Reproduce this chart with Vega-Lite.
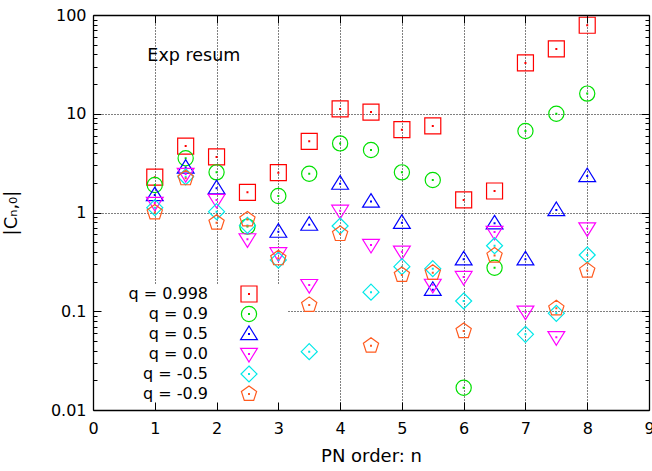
{
  "$schema": "https://vega.github.io/schema/vega-lite/v6.json",
  "width": 556,
  "height": 395,
  "autosize": {"type": "none"},
  "padding": {"left": 93, "top": 15, "right": 3, "bottom": 61},
  "background": "white",
  "config": {"view": {"stroke": null}, "font": "DejaVu Sans"},
  "data": {
    "values": [
      {"n": 1, "v": 2.28, "q": "q = 0.998"},
      {"n": 1.5, "v": 4.71, "q": "q = 0.998"},
      {"n": 2, "v": 3.65, "q": "q = 0.998"},
      {"n": 2.5, "v": 1.6, "q": "q = 0.998"},
      {"n": 3, "v": 2.53, "q": "q = 0.998"},
      {"n": 3.5, "v": 5.26, "q": "q = 0.998"},
      {"n": 4, "v": 11.2, "q": "q = 0.998"},
      {"n": 4.5, "v": 10.4, "q": "q = 0.998"},
      {"n": 5, "v": 6.9, "q": "q = 0.998"},
      {"n": 5.5, "v": 7.52, "q": "q = 0.998"},
      {"n": 6, "v": 1.34, "q": "q = 0.998"},
      {"n": 6.5, "v": 1.65, "q": "q = 0.998"},
      {"n": 7, "v": 32.7, "q": "q = 0.998"},
      {"n": 7.5, "v": 45.3, "q": "q = 0.998"},
      {"n": 8, "v": 78.7, "q": "q = 0.998"},

      {"n": 1, "v": 1.9, "q": "q = 0.9"},
      {"n": 1.5, "v": 3.54, "q": "q = 0.9"},
      {"n": 2, "v": 2.55, "q": "q = 0.9"},
      {"n": 2.5, "v": 0.72, "q": "q = 0.9"},
      {"n": 3, "v": 1.47, "q": "q = 0.9"},
      {"n": 3.5, "v": 2.47, "q": "q = 0.9"},
      {"n": 4, "v": 5.01, "q": "q = 0.9"},
      {"n": 4.5, "v": 4.3, "q": "q = 0.9"},
      {"n": 5, "v": 2.55, "q": "q = 0.9"},
      {"n": 5.5, "v": 2.13, "q": "q = 0.9"},
      {"n": 6, "v": 0.0168, "q": "q = 0.9"},
      {"n": 6.5, "v": 0.276, "q": "q = 0.9"},
      {"n": 7, "v": 6.69, "q": "q = 0.9"},
      {"n": 7.5, "v": 10.0, "q": "q = 0.9"},
      {"n": 8, "v": 16.0, "q": "q = 0.9"},

      {"n": 1, "v": 1.5, "q": "q = 0.5"},
      {"n": 1.5, "v": 2.85, "q": "q = 0.5"},
      {"n": 2, "v": 1.76, "q": "q = 0.5"},
      {"n": 3, "v": 0.64, "q": "q = 0.5"},
      {"n": 3.5, "v": 0.753, "q": "q = 0.5"},
      {"n": 4, "v": 1.96, "q": "q = 0.5"},
      {"n": 4.5, "v": 1.29, "q": "q = 0.5"},
      {"n": 5, "v": 0.788, "q": "q = 0.5"},
      {"n": 5.5, "v": 0.165, "q": "q = 0.5"},
      {"n": 6, "v": 0.336, "q": "q = 0.5"},
      {"n": 6.5, "v": 0.777, "q": "q = 0.5"},
      {"n": 7, "v": 0.336, "q": "q = 0.5"},
      {"n": 7.5, "v": 1.06, "q": "q = 0.5"},
      {"n": 8, "v": 2.34, "q": "q = 0.5"},

      {"n": 1, "v": 1.25, "q": "q = 0.0"},
      {"n": 1.5, "v": 2.45, "q": "q = 0.0"},
      {"n": 2, "v": 1.34, "q": "q = 0.0"},
      {"n": 2.5, "v": 0.535, "q": "q = 0.0"},
      {"n": 3, "v": 0.386, "q": "q = 0.0"},
      {"n": 3.5, "v": 0.184, "q": "q = 0.0"},
      {"n": 4, "v": 1.04, "q": "q = 0.0"},
      {"n": 4.5, "v": 0.469, "q": "q = 0.0"},
      {"n": 5, "v": 0.401, "q": "q = 0.0"},
      {"n": 5.5, "v": 0.185, "q": "q = 0.0"},
      {"n": 6, "v": 0.222, "q": "q = 0.0"},
      {"n": 6.5, "v": 0.635, "q": "q = 0.0"},
      {"n": 7, "v": 0.099, "q": "q = 0.0"},
      {"n": 7.5, "v": 0.0545, "q": "q = 0.0"},
      {"n": 8, "v": 0.69, "q": "q = 0.0"},

      {"n": 1, "v": 1.12, "q": "q = -0.5"},
      {"n": 1.5, "v": 2.3, "q": "q = -0.5"},
      {"n": 2, "v": 1.02, "q": "q = -0.5"},
      {"n": 2.5, "v": 0.74, "q": "q = -0.5"},
      {"n": 3, "v": 0.33, "q": "q = -0.5"},
      {"n": 3.5, "v": 0.039, "q": "q = -0.5"},
      {"n": 4, "v": 0.73, "q": "q = -0.5"},
      {"n": 4.5, "v": 0.156, "q": "q = -0.5"},
      {"n": 5, "v": 0.283, "q": "q = -0.5"},
      {"n": 5.5, "v": 0.27, "q": "q = -0.5"},
      {"n": 6, "v": 0.127, "q": "q = -0.5"},
      {"n": 6.5, "v": 0.461, "q": "q = -0.5"},
      {"n": 7, "v": 0.0584, "q": "q = -0.5"},
      {"n": 7.5, "v": 0.0953, "q": "q = -0.5"},
      {"n": 8, "v": 0.371, "q": "q = -0.5"},

      {"n": 1, "v": 1.0, "q": "q = -0.9"},
      {"n": 1.5, "v": 2.22, "q": "q = -0.9"},
      {"n": 2, "v": 0.788, "q": "q = -0.9"},
      {"n": 2.5, "v": 0.85, "q": "q = -0.9"},
      {"n": 3, "v": 0.344, "q": "q = -0.9"},
      {"n": 3.5, "v": 0.116, "q": "q = -0.9"},
      {"n": 4, "v": 0.605, "q": "q = -0.9"},
      {"n": 4.5, "v": 0.0448, "q": "q = -0.9"},
      {"n": 5, "v": 0.233, "q": "q = -0.9"},
      {"n": 5.5, "v": 0.245, "q": "q = -0.9"},
      {"n": 6, "v": 0.063, "q": "q = -0.9"},
      {"n": 6.5, "v": 0.366, "q": "q = -0.9"},
      {"n": 7.5, "v": 0.107, "q": "q = -0.9"},
      {"n": 8, "v": 0.258, "q": "q = -0.9"}
    ]
  },
  "resolve": {"axis": {"x": "independent", "y": "independent"}},
  "layer": [
    {
      "data": {"values": [{}]},
      "mark": {"type": "rect", "fill": "white"},
      "encoding": {
        "x": {"datum": 0, "type": "quantitative", "scale": {"domain": [0, 9], "nice": false, "zero": false},
          "axis": {"orient": "bottom", "values": [1, 2, 3, 4, 5, 6, 7, 8], "grid": true, "domain": false, "ticks": false, "labels": false, "title": null, "gridColor": "#000", "gridDash": [1, 2], "gridWidth": 1, "gridOpacity": 1, "zindex": 0}},
        "x2": {"datum": 3.14},
        "y": {"datum": 0.01, "type": "quantitative", "scale": {"type": "log", "domain": [0.01, 100], "nice": false},
          "axis": {"orient": "left", "values": [0.1, 1, 10], "grid": true, "domain": false, "ticks": false, "labels": false, "title": null, "gridColor": "#000", "gridDash": [1, 2], "gridWidth": 1, "gridOpacity": 1, "zindex": 0}},
        "y2": {"datum": 0.184}
      }
    },
    {
      "data": {"values": [{}]},
      "mark": {"type": "text", "text": "Exp resum", "align": "left", "baseline": "alphabetic", "fontSize": 17.5, "font": "DejaVu Sans", "color": "#000"},
      "encoding": {
        "x": {"datum": 0.88, "type": "quantitative", "scale": {"domain": [0, 9], "nice": false, "zero": false},
          "axis": {"orient": "top", "values": [0, 1, 2, 3, 4, 5, 6, 7, 8, 9], "grid": false, "labels": false, "title": null, "domain": true, "domainColor": "#000", "domainWidth": 1.3, "ticks": true, "tickSize": -8, "tickColor": "#000", "tickWidth": 1, "zindex": 1}},
        "y": {"datum": 34.2, "type": "quantitative", "scale": {"type": "log", "domain": [0.01, 100], "nice": false},
          "axis": {"orient": "right", "values": [0.01, 0.02, 0.03, 0.04, 0.05, 0.06, 0.07, 0.08, 0.09, 0.1, 0.2, 0.3, 0.4, 0.5, 0.6, 0.7, 0.8, 0.9, 1, 2, 3, 4, 5, 6, 7, 8, 9, 10, 20, 30, 40, 50, 60, 70, 80, 90, 100],
            "grid": false, "labels": false, "title": null, "domain": true, "domainColor": "#000", "domainWidth": 1.3, "ticks": true, "tickColor": "#000", "tickWidth": 1,
            "tickSize": {"condition": {"test": "abs(log(datum.value)/LN10 - round(log(datum.value)/LN10)) < 0.01", "value": -8}, "value": -4}, "zindex": 1}}
      }
    },
    {
      "mark": {"type": "point", "filled": false, "size": 256, "strokeWidth": 1.2, "opacity": 1},
      "encoding": {
        "x": {"field": "n", "type": "quantitative", "scale": {"domain": [0, 9], "nice": false, "zero": false},
          "axis": {"orient": "bottom", "values": [0, 1, 2, 3, 4, 5, 6, 7, 8, 9], "format": "d", "grid": false, "title": "PN order: n", "titleFont": "DejaVu Sans", "titleFontSize": 18, "titleFontWeight": "normal", "titleColor": "#000", "titlePadding": 11,
            "labelFont": "DejaVu Sans", "labelFontSize": 16, "labelColor": "#000", "labelPadding": 18, "labelFlush": false, "labelOverlap": false,
            "domain": true, "domainColor": "#000", "domainWidth": 1.3, "ticks": true, "tickSize": -8, "tickColor": "#000", "tickWidth": 1, "zindex": 1}},
        "y": {"field": "v", "type": "quantitative", "scale": {"type": "log", "domain": [0.01, 100], "nice": false},
          "axis": {"orient": "left", "values": [0.01, 0.02, 0.03, 0.04, 0.05, 0.06, 0.07, 0.08, 0.09, 0.1, 0.2, 0.3, 0.4, 0.5, 0.6, 0.7, 0.8, 0.9, 1, 2, 3, 4, 5, 6, 7, 8, 9, 10, 20, 30, 40, 50, 60, 70, 80, 90, 100],
            "labelExpr": "abs(log(datum.value)/LN10 - round(log(datum.value)/LN10)) < 0.01 ? format(datum.value, '~g') : ''",
            "grid": false, "title": "|Cₙ,₀|", "titleFont": "DejaVu Sans", "titleFontSize": 18, "titleFontWeight": "normal", "titleColor": "#000", "titlePadding": 30,
            "labelFont": "DejaVu Sans", "labelFontSize": 16, "labelColor": "#000", "labelPadding": 15, "labelFlush": false, "labelOverlap": false,
            "domain": true, "domainColor": "#000", "domainWidth": 1.3, "ticks": true, "tickColor": "#000", "tickWidth": 1,
            "tickSize": {"condition": {"test": "abs(log(datum.value)/LN10 - round(log(datum.value)/LN10)) < 0.01", "value": -8}, "value": -4}, "zindex": 1}},
        "shape": {"field": "q", "type": "nominal",
          "scale": {"domain": ["q = 0.998", "q = 0.9", "q = 0.5", "q = 0.0", "q = -0.5", "q = -0.9"],
            "range": [
              "M-1,-1H1V1H-1Z M-0.05,-0.05H0.05V0.05H-0.05Z",
              "M-0.95,0A0.95,0.95,0,1,1,0.95,0A0.95,0.95,0,1,1,-0.95,0Z M-0.05,-0.05H0.05V0.05H-0.05Z M0,-1 M0,1",
              "M0,-1L1.05,0.7L-1.05,0.7Z M-0.05,-0.05H0.05V0.05H-0.05Z M0,1",
              "M0,1L1.05,-0.7L-1.05,-0.7Z M-0.05,-0.05H0.05V0.05H-0.05Z M0,-1",
              "M0,-1L1,0L0,1L-1,0Z M-0.05,-0.05H0.05V0.05H-0.05Z",
              "M0,-1L0.951,-0.309L0.588,0.809L-0.588,0.809L-0.951,-0.309Z M-0.05,-0.05H0.05V0.05H-0.05Z M0,1"
            ]},
          "legend": {"orient": "none", "legendX": 147, "legendY": 270, "title": null, "padding": 0, "labelOffset": -50, "labelAlign": "right", "labelFont": "DejaVu Sans", "labelFontSize": 16, "labelColor": "#000", "labelLimit": 300, "symbolSize": 256, "symbolStrokeWidth": 1.2, "rowPadding": -2}},
        "color": {"field": "q", "type": "nominal",
          "scale": {"domain": ["q = 0.998", "q = 0.9", "q = 0.5", "q = 0.0", "q = -0.5", "q = -0.9"],
            "range": ["#ff0000", "#00e000", "#0000ff", "#ff00ff", "#00e8e8", "#ff5a1e"]},
          "legend": {"orient": "none", "legendX": 147, "legendY": 270, "title": null, "padding": 0, "labelOffset": -50, "labelAlign": "right", "labelFont": "DejaVu Sans", "labelFontSize": 16, "labelColor": "#000", "labelLimit": 300, "symbolSize": 256, "symbolStrokeWidth": 1.2, "rowPadding": -2}}
      }
    }
  ]
}
